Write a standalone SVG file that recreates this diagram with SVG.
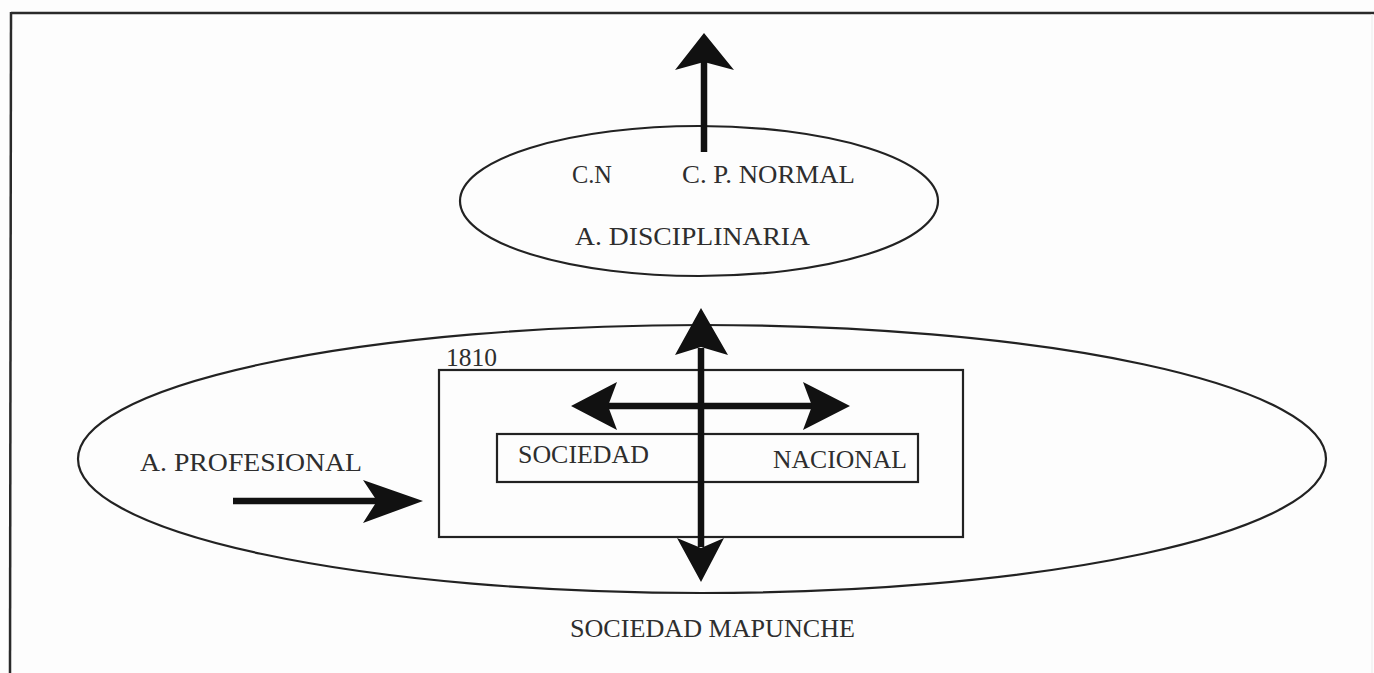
<svg xmlns="http://www.w3.org/2000/svg" width="1374" height="673" viewBox="0 0 1374 673">
<style>
.bg{fill:#fdfdfd}
.frame{stroke:#2a2a2a;stroke-width:2.5;fill:none}
.faint{stroke:#efefef;stroke-width:1.2;fill:none}
.shape{fill:none;stroke:#222;stroke-width:2.2}
.shaft{stroke:#111;stroke-width:6.5;fill:none}
.head{fill:#111;stroke:none}
.lbl{font-family:"Liberation Serif","Times New Roman",serif;font-size:25px;fill:#2e2e2e}
</style>
<rect class="bg" x="0" y="0" width="1374" height="673"/>
<g id="frame">
<line class="frame" x1="11" y1="13" x2="1374" y2="13"/>
<line class="frame" x1="11" y1="12" x2="10" y2="673"/>
<line class="faint" x1="1372" y1="14" x2="1372" y2="673"/>
</g>
<g id="node-disciplinaria">
<ellipse class="shape" cx="699" cy="201" rx="239" ry="75"/>
<text class="lbl" x="572" y="183" textLength="40" lengthAdjust="spacingAndGlyphs">C.N</text>
<text class="lbl" x="682" y="183" textLength="173" lengthAdjust="spacingAndGlyphs">C. P.  NORMAL</text>
<text class="lbl" x="575" y="245" textLength="235" lengthAdjust="spacingAndGlyphs">A.  DISCIPLINARIA</text>
</g>
<g id="node-mapunche">
<ellipse class="shape" cx="702" cy="459" rx="624" ry="134"/>
<text class="lbl" x="570" y="637" textLength="285" lengthAdjust="spacingAndGlyphs">SOCIEDAD MAPUNCHE</text>
</g>
<g id="node-profesional">
<text class="lbl" x="140" y="471" textLength="222" lengthAdjust="spacingAndGlyphs">A.  PROFESIONAL</text>
</g>
<g id="node-1810">
<rect class="shape" x="439" y="370" width="524" height="167"/>
<text class="lbl" x="446" y="366" textLength="51" lengthAdjust="spacingAndGlyphs">1810</text>
</g>
<g id="node-nacional">
<rect class="shape" x="497" y="434" width="421" height="48"/>
<text class="lbl" x="518" y="463" textLength="131" lengthAdjust="spacingAndGlyphs">SOCIEDAD</text>
<text class="lbl" x="773" y="468" textLength="134" lengthAdjust="spacingAndGlyphs">NACIONAL</text>
</g>
<g id="connectors">
<line class="shaft" x1="704" y1="152" x2="704" y2="62"/>
<path class="head" d="M704,33 L734,70 L704,62 L675,70 Z"/>
<line class="shaft" x1="701" y1="348" x2="701" y2="547"/>
<path class="head" d="M701,308 L728,355 L701,347 L675,355 Z"/>
<path class="head" d="M701,582 L724,538 L701,548 L677,538 Z"/>
<line class="shaft" x1="608" y1="406" x2="812" y2="406"/>
<path class="head" d="M571,406 L617,382 L608,406 L617,430 Z"/>
<path class="head" d="M850,406 L803,382 L812,406 L803,430 Z"/>
<line class="shaft" x1="233" y1="501" x2="378" y2="501"/>
<path class="head" d="M423,501 L363,480 L377,501 L363,523 Z"/>
</g>
</svg>
